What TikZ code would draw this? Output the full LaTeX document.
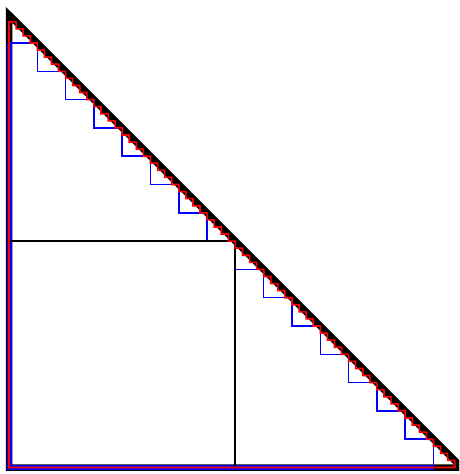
\documentclass[tikz,border=0pt]{standalone}
\begin{document}
\begin{tikzpicture}[x=1pt,y=-1pt,
  tri/.style={line width=6.5pt, miter limit=10, line join=miter},
  hyp/.style={line width=6.5pt},
  blueedge/.style={blue, line width=5pt},
  bluestair/.style={blue, line width=1.5pt},
  sqline/.style={black, line width=2pt},
  redstair/.style={red, line width=1.6pt}]
\pgfmathsetmacro\Lx{9}
\pgfmathsetmacro\By{467.5}
\pgfmathsetmacro\stp{28.3}
\pgfmathsetmacro\Ty{\By-16*\stp}
\pgfmathsetmacro\Cx{\Lx+16*\stp}
\pgfmathsetmacro\sred{\stp/4}
\useasboundingbox (0,0) rectangle (459,474);
\clip (0,0) rectangle (459,474);
\coordinate (A) at (\Lx,\Ty);
\coordinate (B) at (\Lx,\By);
\coordinate (C) at (\Cx,\By);
% outer triangle
\draw[tri] (A) -- (B) -- (C) -- cycle;
% blue staircase (16 steps)
\draw[blueedge] (\Lx,{\Ty+\stp}) -- (B) -- ({\Lx+15*\stp},\By);
\draw[bluestair] (\Lx,{\Ty+\stp}) \foreach \k in {1,...,15}{ -| ({\Lx+\k*\stp},{\Ty+(\k+1)*\stp}) };
% square (2 steps)
\coordinate (S1) at (\Lx,{\Ty+8*\stp});
\coordinate (S2) at ({\Lx+8*\stp},{\Ty+8*\stp});
\coordinate (S3) at ({\Lx+8*\stp},\By);
\draw[sqline] (S1) -- (S2) -- (S3);
% hypotenuse on top
\draw[hyp] (A) -- (C);
% red staircase (64 steps)
\draw[redstair] (\Lx,{\Ty+\sred}) \foreach \k in {1,...,63}{ -| ({\Lx+\k*\sred},{\Ty+(\k+1)*\sred}) } -- (B) -- cycle;
\end{tikzpicture}
\end{document}
